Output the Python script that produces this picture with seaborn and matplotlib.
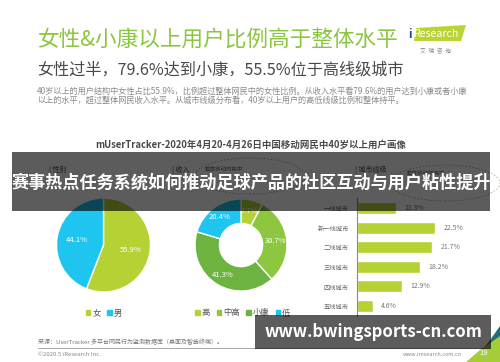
import matplotlib
matplotlib.use("Agg")
import matplotlib.pyplot as plt
from matplotlib.patches import Rectangle, Polygon, Ellipse, Patch
import seaborn as sns
import pandas as pd

sns.set_style("white")
plt.rcParams['font.family'] = ['Noto Sans CJK SC', 'DejaVu Sans']

# ---------------- data ----------------
gender_labels = ["女", "男"]
gender_values = [55.9, 44.1]

income_labels = ["高", "中高", "小康", "低"]
income_values = [7.7, 30.7, 41.3, 20.4]

city_labels = ["一线城市", "新一线城市", "二线城市", "三线城市", "四线城市", "五线城市"]
city_values = [11.3, 22.5, 21.7, 18.2, 12.9, 4.6]

title = "女性&小康以上用户比例高于整体水平"
subtitle = "女性过半，79.6%达到小康，55.5%位于高线级城市"
desc1 = "40岁以上的用户结构中女性占比55.9%，比例超过整体网民中的女性比例。从收入水平看79.6%的用户达到小康或者小康"
desc2 = "以上的水平，超过整体网民收入水平。从城市线级分布看，40岁以上用户的高低线级比例和整体持平。"
chart_title = "mUserTracker-2020年4月20-4月26日中国移动网民中40岁以上用户画像"
banner1 = "赛事热点任务系统如何推动足球产品的社区互动与用户粘性提升"
banner2 = "www.bwingsports-cn.com"

# ---------------- colors ----------------
GREEN_T = "#8cc540"
YG = "#b5d234"
CYAN = "#1ec5ef"
income_colors = [YG, "#8dc63f", "#6cb33f", CYAN]
gender_colors = [YG, CYAN]

W, H = 500, 362
fig = plt.figure(figsize=(W / 100, H / 100), dpi=100)
fig.patch.set_facecolor("white")


def px(x):
    return x / W


def py(y):
    return 1 - y / H


def axes_px(x0, y0, x1, y1):
    return fig.add_axes([px(x0), py(y1), (x1 - x0) / W, (y1 - y0) / H])


# ---------------- header ----------------
fig.text(px(37), py(40), title, color=GREEN_T, fontsize=15.6, va="center", ha="left")
fig.text(px(37), py(70), subtitle, color="#4a4a4a", fontsize=11.6, va="center", ha="left")
fig.text(px(37), py(91), desc1, color="#8a8a8a", fontsize=5.9, va="center", ha="left")
fig.text(px(37), py(100.5), desc2, color="#8a8a8a", fontsize=5.9, va="center", ha="left")

# logo
fig.patches.append(Polygon([(px(414), py(41)), (px(416), py(28)), (px(466), py(25)), (px(461), py(41))],
                           closed=True, transform=fig.transFigure, facecolor="#b9d535", edgecolor="none"))
fig.text(px(408), py(34), "i", color="#1b4f8a", fontsize=8.5, va="center", ha="left", fontweight="bold")
fig.text(px(437), py(34), "Research", color="white", fontsize=7.6, va="center", ha="center")
fig.text(px(436), py(51), "艾  瑞  咨  询", color="#888888", fontsize=4.2, va="center", ha="center")

# chart title
fig.text(px(251), py(145), chart_title, color="#4a4a4a", fontsize=6.8, va="center", ha="center",
         fontweight="bold")

# section labels (partly hidden under the overlay banner, as in the original)
for x, t in [(49, "| 性别"), (172, "| 收入"), (355, "| 城市线级")]:
    fig.text(px(x), py(170), t, color="#555555", fontsize=5, va="center", ha="left")
fig.text(px(224), py(169), "整体移动网民中", color="#777777", fontsize=4, va="center", ha="center")
fig.text(px(426), py(173), "整体移动网民中", color="#777777", fontsize=4, va="center", ha="center")
for (cx, cy, w, h) in [(250, 176, 110, 36), (445, 183, 110, 36)]:
    fig.patches.append(Ellipse((px(cx), py(cy)), w / W, h / H, transform=fig.transFigure,
                               facecolor="none", edgecolor="#b0b0a0", linestyle=(0, (2, 2)), linewidth=0.6))

# ---------------- gender pie ----------------
ax1 = axes_px(103.5 - 47, 245 - 47, 103.5 + 47, 245 + 47)
ax1.pie(gender_values, colors=gender_colors, startangle=90, counterclock=False, radius=1,
        autopct="%.1f%%", pctdistance=0.58,
        textprops=dict(color="white", fontsize=5.5))
ax1.set_xlim(-1, 1)
ax1.set_ylim(-1, 1)
ax1.set_aspect("equal")
ax1.axis("off")

# ---------------- income donut ----------------
ax2 = axes_px(241 - 46, 245 - 46, 241 + 46, 245 + 46)
ax2.pie(income_values, colors=income_colors, startangle=90, counterclock=False, radius=1,
        wedgeprops=dict(width=0.53), autopct="%.1f%%", pctdistance=0.76,
        textprops=dict(color="white", fontsize=5.5))
ax2.set_xlim(-1, 1)
ax2.set_ylim(-1, 1)
ax2.set_aspect("equal")
ax2.axis("off")

# legends
fig.legend([Patch(color=c) for c in gender_colors], gender_labels, loc="center",
           bbox_to_anchor=(px(104), py(313)), ncol=2, frameon=False, fontsize=6,
           handlelength=0.5, handleheight=0.5, handletextpad=0.25, columnspacing=0.8,
           labelcolor="#555555")
fig.legend([Patch(color=c) for c in income_colors], income_labels, loc="center",
           bbox_to_anchor=(px(243), py(313)), ncol=4, frameon=False, fontsize=6,
           handlelength=0.5, handleheight=0.5, handletextpad=0.25, columnspacing=0.8,
           labelcolor="#555555")

# ---------------- city bars ----------------
step = 19.6
ax3 = axes_px(357, 208 - step / 2, 357 + 3.47 * 25, 208 + step * 5.5)
df = pd.DataFrame({"city": city_labels, "value": city_values})
sns.barplot(data=df, x="value", y="city", color=YG, width=0.61, saturation=1, ax=ax3)
ax3.set_xlim(0, 25)
ax3.set_ylim(5.5, -0.5)
ax3.set_xlabel("")
ax3.set_ylabel("")
ax3.set_xticks([])
ax3.tick_params(axis="y", length=0, labelsize=4.5, labelcolor="#666666", pad=6)
for s in ["top", "right", "bottom"]:
    ax3.spines[s].set_visible(False)
ax3.spines["left"].set_color("#8a8a8a")
ax3.spines["left"].set_linewidth(0.8)
ax3.set_facecolor("none")
for cont in ax3.containers:
    ax3.bar_label(cont, labels=[f"{v}%" for v in city_values], padding=6, fontsize=5,
                  color="#777777")

# ---------------- footer ----------------
fig.text(px(38), py(342.5), "来源：UserTracker 多平台网民行为监测数据库（桌面及智能终端）。", color="#777777",
         fontsize=4.3, va="center", ha="left")
fig.lines.append(plt.Line2D([px(38), px(485)], [py(348), py(348)], transform=fig.transFigure,
                            color="#9a9a9a", linewidth=0.6))
fig.text(px(38), py(354), "©2020.5 iResearch Inc.", color="#888888", fontsize=4.3, va="center", ha="left")
fig.text(px(462), py(354), "www.iresearch.com.cn", color="#888888", fontsize=4, va="center", ha="right")
fig.patches.append(Polygon([(px(466), py(362)), (px(500), py(333)), (px(500), py(362))], closed=True,
                           transform=fig.transFigure, facecolor="#a6cc38", edgecolor="none"))
fig.patches.append(Polygon([(px(486), py(346)), (px(500), py(326)), (px(500), py(336))], closed=True,
                           transform=fig.transFigure, facecolor="#1d6f7a", edgecolor="none"))
fig.text(px(484), py(353), "19", color="white", fontsize=5.5, va="center", ha="center")

# ---------------- overlay banners ----------------
fig.patches.append(Rectangle((px(12), py(211)), (490 - 12) / W, (211 - 152) / H, transform=fig.transFigure,
                             facecolor="black", alpha=0.64, edgecolor="none", zorder=10))
fig.text(px(251), py(183), banner1, color="white", fontsize=12.3, fontweight="bold", va="center",
         ha="center", zorder=11)
fig.patches.append(Rectangle((px(255), py(349)), (491 - 255) / W, (349 - 315) / H, transform=fig.transFigure,
                             facecolor="black", alpha=0.64, edgecolor="none", zorder=10))
fig.text(px(373), py(332), banner2, color="white", fontsize=12, fontweight="bold", va="center",
         ha="center", zorder=11)

fig.savefig("out.png", dpi=100)
